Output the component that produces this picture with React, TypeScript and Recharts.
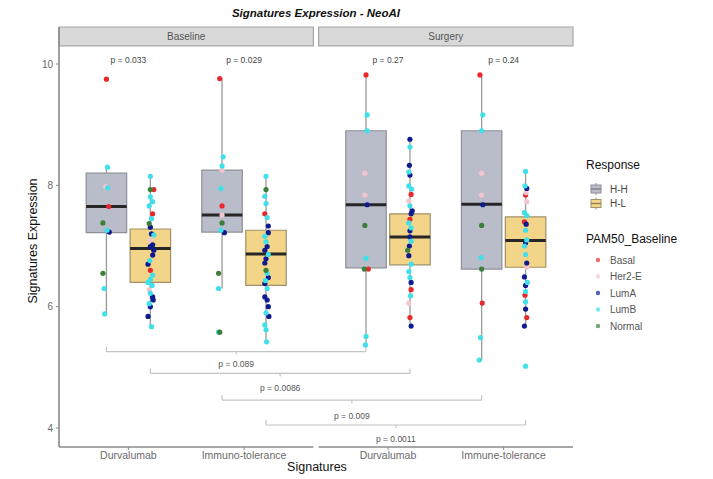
import React from "react";
import {
  ComposedChart,
  XAxis,
  YAxis,
  Scatter,
  ReferenceArea,
  ReferenceLine,
  ReferenceDot,
} from "recharts";

// ---------- data ----------
const facets = ["Baseline", "Surgery"];
const signatureTicks = ["Durvalumab", "Immuno-tolerance", "Durvalumab", "Immune-tolerance"];
const signaturePos = [1, 2, 3.245, 4.245];
const responses = ["H-H", "H-L"];
const responseFill = ["#b9bdca", "#f3d58a"];
const responseStroke = ["#8e8f96", "#a0916a"];
const subtypes = ["Basal", "Her2-E", "LumA", "LumB", "Normal"];
const subtypeColors = ["#e8282b", "#f4c4cf", "#0d1b8e", "#3fe0ea", "#3b7f3a"];

// group order: (signature 0..3) x (response H-H, H-L)
const whiskerLow = [5.86, 5.67, 6.3, 5.42, 5.34, 5.68, 5.12, 5.68];
const quart1 = [7.22, 6.4, 7.23, 6.35, 6.64, 6.69, 6.62, 6.65];
const medians = [7.65, 6.96, 7.51, 6.87, 7.68, 7.15, 7.69, 7.09];
const quart3 = [8.2, 7.28, 8.25, 7.26, 8.9, 7.53, 8.9, 7.48];
const whiskerHigh = [8.3, 8.15, 9.76, 8.15, 9.82, 8.76, 9.82, 8.23];

type Pt = [number, string, number];
const points0: Pt[] = [
  [9.75, "Basal", 0.0], [8.3, "LumB", 0.01], [7.98, "Her2-E", -0.005], [7.96, "LumB", 0.01],
  [7.65, "Basal", 0.02], [7.38, "Normal", -0.03], [7.26, "LumB", 0.005], [7.23, "LumA", 0.025],
  [6.55, "Normal", -0.03], [6.3, "LumB", -0.02], [5.88, "LumB", -0.015],
];
const points1: Pt[] = [
  [8.15, "LumB", 0.0], [7.93, "Normal", 0.0], [7.93, "Basal", 0.03], [7.81, "LumB", 0.0],
  [7.73, "LumB", 0.02], [7.66, "LumB", -0.01], [7.53, "Basal", 0.02], [7.45, "LumB", 0.01],
  [7.37, "Normal", -0.01], [7.31, "LumA", 0.0], [7.2, "LumA", 0.01], [7.18, "LumB", 0.03],
  [7.1, "Her2-E", 0.0], [7.02, "LumA", 0.02], [6.99, "LumA", 0.0], [6.93, "LumA", 0.03],
  [6.85, "LumA", 0.02], [6.76, "LumB", -0.005], [6.7, "LumA", -0.02], [6.6, "Basal", 0.0],
  [6.52, "LumB", 0.02], [6.45, "LumB", 0.0], [6.4, "LumB", -0.02], [6.35, "LumB", 0.015],
  [6.28, "Her2-E", -0.01], [6.22, "LumB", 0.0], [6.16, "LumA", 0.02], [6.11, "LumA", 0.025],
  [6.05, "LumB", -0.01], [6.0, "LumA", 0.0], [5.84, "LumA", -0.02], [5.67, "LumB", 0.01],
];
const points2: Pt[] = [
  [9.76, "Basal", -0.02], [8.47, "LumB", 0.01], [8.32, "LumB", 0.0], [8.25, "Her2-E", 0.0],
  [7.95, "LumB", -0.01], [7.66, "Basal", 0.0], [7.51, "Her2-E", 0.0], [7.38, "Normal", 0.0],
  [7.26, "LumB", -0.01], [7.22, "LumA", 0.02], [6.55, "Normal", -0.03], [6.3, "LumB", -0.03],
  [5.58, "Normal", -0.02], [5.58, "LumB", -0.03],
];
const points3: Pt[] = [
  [8.15, "LumB", 0.0], [7.93, "Normal", 0.0], [7.82, "LumB", -0.01], [7.7, "LumB", 0.0],
  [7.53, "Basal", -0.01], [7.47, "LumB", 0.01], [7.33, "LumA", 0.02], [7.22, "LumA", 0.02],
  [7.16, "LumB", -0.01], [7.07, "LumB", 0.0], [6.99, "LumA", 0.01], [6.93, "LumA", -0.01],
  [6.86, "LumB", 0.02], [6.79, "LumA", 0.0], [6.72, "LumA", -0.01], [6.6, "Normal", 0.0],
  [6.55, "LumB", 0.01], [6.48, "LumA", 0.02], [6.43, "LumB", -0.005], [6.38, "LumA", -0.01],
  [6.3, "LumB", 0.01], [6.16, "LumA", -0.01], [6.11, "LumA", 0.01], [6.0, "LumA", 0.02],
  [5.9, "LumB", 0.0], [5.84, "LumA", 0.025], [5.7, "LumB", -0.01], [5.62, "LumB", 0.0],
  [5.42, "LumB", 0.005],
];
const points4: Pt[] = [
  [9.82, "Basal", 0.0], [9.16, "LumB", 0.01], [8.9, "LumB", 0.01], [8.2, "Her2-E", -0.01],
  [7.84, "Her2-E", -0.01], [7.68, "LumA", 0.01], [7.34, "Normal", -0.01], [6.8, "LumB", 0.0],
  [6.62, "Normal", -0.015], [6.62, "Basal", 0.02], [5.51, "LumB", 0.0], [5.37, "LumB", -0.005],
];
const points5: Pt[] = [
  [8.76, "LumA", 0.0], [8.63, "LumB", 0.0], [8.33, "LumA", -0.005], [8.22, "LumB", -0.01],
  [8.17, "LumA", 0.0], [7.99, "LumB", -0.01], [7.94, "LumB", 0.015], [7.85, "Basal", 0.01],
  [7.74, "Her2-E", -0.01], [7.66, "LumB", 0.0], [7.58, "LumA", 0.02], [7.53, "LumA", 0.01],
  [7.44, "Basal", 0.0], [7.38, "LumB", -0.01], [7.3, "LumB", 0.01], [7.25, "LumA", 0.0],
  [7.15, "LumA", 0.0], [7.08, "LumB", 0.01], [7.0, "LumA", -0.005], [6.93, "Normal", -0.02],
  [6.84, "LumA", -0.01], [6.7, "LumB", 0.01], [6.58, "LumB", -0.01], [6.48, "LumB", 0.0],
  [6.4, "LumA", 0.01], [6.28, "Basal", 0.01], [6.18, "LumB", 0.005], [6.06, "Her2-E", -0.01],
  [5.82, "Basal", 0.0], [5.68, "LumA", 0.01],
];
const points6: Pt[] = [
  [9.82, "Basal", -0.015], [9.16, "LumB", 0.01], [8.9, "LumB", 0.0], [8.2, "Her2-E", 0.0],
  [7.84, "Her2-E", 0.0], [7.68, "LumA", 0.01], [7.34, "Normal", 0.0], [6.81, "LumB", -0.005],
  [6.62, "Normal", 0.0], [6.06, "Basal", 0.005], [5.49, "LumB", -0.01], [5.12, "LumB", -0.02],
];
const points7: Pt[] = [
  [8.23, "LumB", 0.0], [7.99, "LumB", -0.005], [7.95, "LumA", 0.01], [7.88, "Her2-E", 0.005],
  [7.84, "Basal", 0.0], [7.73, "Her2-E", 0.01], [7.55, "LumB", -0.01], [7.5, "LumB", 0.01],
  [7.4, "Basal", -0.01], [7.36, "LumA", 0.005], [7.26, "LumB", 0.0], [7.1, "LumB", 0.01],
  [7.05, "LumA", 0.0], [7.0, "LumB", -0.01], [6.86, "LumB", 0.0], [6.72, "LumA", 0.01],
  [6.65, "Her2-E", 0.01], [6.49, "LumA", -0.01], [6.4, "LumB", 0.015], [6.35, "LumA", 0.0],
  [6.25, "LumB", 0.0], [6.19, "Basal", -0.005], [6.08, "LumB", 0.0], [5.96, "LumA", 0.0],
  [5.82, "Basal", 0.01], [5.68, "LumA", -0.01], [5.02, "LumB", 0.0],
];
const groupPoints = [points0, points1, points2, points3, points4, points5, points6, points7];

const topPValues = ["p = 0.033", "p = 0.029", "p = 0.27", "p = 0.24"];
const bracketPairs = [[0, 4], [1, 5], [2, 6], [3, 7]];
const bracketY = [5.26, 4.9, 4.46, 4.05];
const bracketLabelY = [5.055, 4.665, 4.198, 3.82];
const bracketPValues = ["p = 0.089", "p = 0.0086", "p = 0.009", "p = 0.0011"];

const yTicks = [4, 6, 8, 10];

// ---------- layout constants ----------
const Y_MIN = 3.687;
const Y_MAX = 10.61;
const STRIP_BOTTOM = 10.3;
const X_MIN = 0.4;
const X_MAX = 4.845;
const PANEL_SPAN = 2.2;
const PANEL_GAP = 0.045;
const DODGE = 0.19;
const HALF_W = 0.175;
const TOP_P_Y = 10.07;
const FONT = "'Liberation Sans', Arial, Helvetica, sans-serif";

const groupX = (g: number) =>
  signaturePos[Math.floor(g / 2)] + (g % 2 === 0 ? -DODGE : DODGE);

const scatterBySubtype = subtypes.map((s) => {
  const rows: { x: number; y: number }[] = [];
  groupPoints.forEach((pts, g) => {
    pts.forEach(([v, st, dx]) => {
      if (st === s) rows.push({ x: groupX(g) + dx, y: v });
    });
  });
  return rows;
});

const Dot = (color: string) => (props: any) =>
  props.cx == null ? null : (
    <circle cx={props.cx} cy={props.cy} r={2.6} fill={color} />
  );

export default function App() {
  const boxes: React.ReactNode[] = [];
  medians.forEach((_, g) => {
    const cx = groupX(g);
    const r = g % 2;
    boxes.push(
      <ReferenceLine
        key={`wl${g}`}
        segment={[{ x: cx, y: whiskerLow[g] }, { x: cx, y: quart1[g] }]}
        stroke="#9a9a9a"
        strokeWidth={1.3}
        ifOverflow="visible"
      />,
      <ReferenceLine
        key={`wh${g}`}
        segment={[{ x: cx, y: quart3[g] }, { x: cx, y: whiskerHigh[g] }]}
        stroke="#9a9a9a"
        strokeWidth={1.3}
        ifOverflow="visible"
      />,
      <ReferenceArea
        key={`b${g}`}
        x1={cx - HALF_W}
        x2={cx + HALF_W}
        y1={quart1[g]}
        y2={quart3[g]}
        fill={responseFill[r]}
        fillOpacity={1}
        stroke={responseStroke[r]}
        strokeWidth={1.2}
        ifOverflow="visible"
      />,
      <ReferenceLine
        key={`m${g}`}
        segment={[{ x: cx - HALF_W, y: medians[g] }, { x: cx + HALF_W, y: medians[g] }]}
        stroke="#262626"
        strokeWidth={3}
        ifOverflow="visible"
      />
    );
  });

  const brackets: React.ReactNode[] = [];
  bracketPairs.forEach(([a, b], i) => {
    const xa = groupX(a);
    const xb = groupX(b);
    const xm = (xa + xb) / 2;
    const y = bracketY[i];
    brackets.push(
      <ReferenceLine key={`bl${i}`} segment={[{ x: xa, y }, { x: xb, y }]} stroke="#c4c4c4" strokeWidth={1.2} ifOverflow="visible" />,
      <ReferenceLine key={`ba${i}`} segment={[{ x: xa, y }, { x: xa, y: y + 0.08 }]} stroke="#c4c4c4" strokeWidth={1.2} ifOverflow="visible" />,
      <ReferenceLine key={`bb${i}`} segment={[{ x: xb, y }, { x: xb, y: y + 0.08 }]} stroke="#c4c4c4" strokeWidth={1.2} ifOverflow="visible" />,
      <ReferenceLine key={`bc${i}`} segment={[{ x: xm, y }, { x: xm, y: y - 0.05 }]} stroke="#c4c4c4" strokeWidth={1.2} ifOverflow="visible" />,
      <ReferenceDot
        key={`bt${i}`}
        x={xm}
        y={bracketLabelY[i]}
        r={1}
        fill="none"
        stroke="none"
        ifOverflow="visible"
        label={{ value: bracketPValues[i], position: "center", fontSize: 8.5, fill: "#555", fontFamily: FONT }}
      />
    );
  });

  const strips = facets.map((f, i) => {
    const x1 = X_MIN + i * (PANEL_SPAN + PANEL_GAP);
    return (
      <ReferenceArea
        key={`s${i}`}
        x1={x1}
        x2={x1 + PANEL_SPAN}
        y1={STRIP_BOTTOM}
        y2={Y_MAX}
        fill="#d9d9d9"
        fillOpacity={1}
        stroke="#a6a6a6"
        strokeWidth={1.2}
        ifOverflow="visible"
        label={{ value: f, position: "center", fontSize: 10, fill: "#555", fontFamily: FONT }}
      />
    );
  });

  const axisLines = facets.map((_, i) => {
    const x1 = X_MIN + i * (PANEL_SPAN + PANEL_GAP);
    return (
      <ReferenceLine
        key={`ax${i}`}
        segment={[{ x: x1, y: Y_MIN }, { x: x1 + PANEL_SPAN, y: Y_MIN }]}
        stroke="#8a8a8a"
        strokeWidth={1.6}
        ifOverflow="visible"
      />
    );
  });

  const topLabels = topPValues.map((p, i) => (
    <ReferenceDot
      key={`tp${i}`}
      x={signaturePos[i]}
      y={TOP_P_Y}
      r={1}
      fill="none"
      stroke="none"
      ifOverflow="visible"
      label={{ value: p, position: "center", fontSize: 8.5, fill: "#444", fontFamily: FONT }}
    />
  ));

  return (
    <div style={{ position: "absolute", left: 0, top: 0, width: 713, height: 479, background: "#fff", fontFamily: FONT }}>
      <div style={{ position: "absolute", left: 0, top: 0 }}>
        <ComposedChart
          width={713}
          height={479}
          margin={{ top: 27, right: 140, bottom: 12, left: 0 }}
          style={{ fontFamily: FONT }}
        >
          <XAxis
            type="number"
            dataKey="x"
            domain={[X_MIN, X_MAX]}
            allowDataOverflow
            ticks={signaturePos}
            interval={0}
            tickFormatter={(_v: number, i: number) => signatureTicks[i]}
            axisLine={false}
            tickLine={{ stroke: "#8a8a8a" }}
            tickSize={3}
            tickMargin={2}
            height={20}
            tick={{ fontSize: 10.5, fill: "#6a6a6a" }}
          />
          <YAxis
            type="number"
            dataKey="y"
            domain={[Y_MIN, Y_MAX]}
            allowDataOverflow
            ticks={yTicks}
            interval={0}
            width={59}
            axisLine={{ stroke: "#8a8a8a", strokeWidth: 1.6 }}
            tickLine={{ stroke: "#8a8a8a" }}
            tickSize={3}
            tickMargin={3}
            tick={{ fontSize: 10, fill: "#6a6a6a" }}
          />
          {strips}
          {axisLines}
          {boxes}
          {brackets}
          {topLabels}
          {subtypes.map((s, i) => (
            <Scatter
              key={s}
              name={s}
              data={scatterBySubtype[i]}
              fill={subtypeColors[i]}
              shape={Dot(subtypeColors[i])}
              isAnimationActive={false}
            />
          ))}
        </ComposedChart>
      </div>
      <svg
        width={713}
        height={479}
        style={{ position: "absolute", left: 0, top: 0, pointerEvents: "none" }}
        fontFamily={FONT}
      >
        <text x={316} y={17} textAnchor="middle" fontSize={11.5} fontWeight="bold" fontStyle="italic" fill="#111">
          Signatures Expression - NeoAI
        </text>
        <text
          x={37}
          y={241}
          textAnchor="middle"
          fontSize={12.5}
          fill="#111"
          transform="rotate(-90 37 241)"
        >
          Signatures Expression
        </text>
        <text x={317} y={471} textAnchor="middle" fontSize={12.5} fill="#111">
          Signatures
        </text>
        <text x={586} y={169} fontSize={12} fill="#111">Response</text>
        {responses.map((r, i) => {
          const cy = 189 + i * 14.5;
          return (
            <g key={r}>
              <line x1={596} x2={596} y1={cy - 6} y2={cy + 6} stroke={responseStroke[i]} strokeWidth={1} />
              <rect x={591} y={cy - 4} width={10} height={8} fill={responseFill[i]} stroke={responseStroke[i]} strokeWidth={1} />
              <line x1={591} x2={601} y1={cy} y2={cy} stroke={i === 0 ? "#777" : "#8a7a50"} strokeWidth={1.2} />
              <text x={610} y={cy + 3.5} fontSize={10} fill="#444">{r}</text>
            </g>
          );
        })}
        <text x={586} y={243} fontSize={12} fill="#111">PAM50_Baseline</text>
        {subtypes.map((s, i) => {
          const cy = 260 + i * 16.5;
          return (
            <g key={s}>
              <circle cx={598} cy={cy} r={2.2} fill={subtypeColors[i]} opacity={0.7} />
              <text x={610} y={cy + 3.5} fontSize={10} fill="#555">{s}</text>
            </g>
          );
        })}
      </svg>
    </div>
  );
}
